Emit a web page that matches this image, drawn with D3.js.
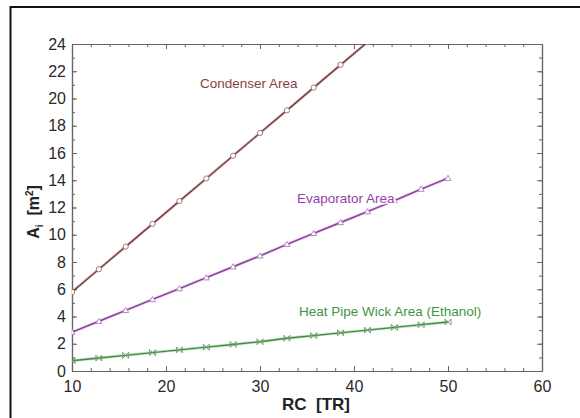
<!DOCTYPE html>
<html>
<head>
<meta charset="utf-8">
<script src="https://cdn.jsdelivr.net/npm/d3@7"></script>
<style>
  body { margin: 0; background: #fff; }
  svg { display: block; font-family: Arial, "Liberation Sans", sans-serif; }
</style>
</head>
<body>
<svg id="chart" width="580" height="418"></svg>
<script>
// values
var rc = [10, 12.86, 15.71, 18.57, 21.43, 24.29, 27.14, 30, 32.86, 35.71, 38.57, 41.43, 44.29, 47.14, 50];
var condenser = [5.8, 7.47, 9.13, 10.8, 12.47, 14.13, 15.8, 17.47, 19.13, 20.8, 22.47, 24.13, 25.8, 27.47, 29.13];
var evaporator = [2.85, 3.65, 4.45, 5.25, 6.05, 6.85, 7.65, 8.45, 9.3, 10.1, 10.9, 11.7, 12.5, 13.35, 14.15];
var wick = [0.75, 0.95, 1.15, 1.35, 1.55, 1.75, 1.95, 2.15, 2.4, 2.6, 2.8, 3.0, 3.2, 3.4, 3.6];
var xTicks = [10, 20, 30, 40, 50, 60];
var yTicks = [0, 2, 4, 6, 8, 10, 12, 14, 16, 18, 20, 22, 24];

var svg = d3.select("#chart");
var pLeft = 72, pRight = 542, pTop = 44, pBottom = 371;

var x = d3.scaleLinear().domain([10, 60]).range([pLeft, pRight]);
var y = d3.scaleLinear().domain([0, 24]).range([pBottom, pTop]);

// outer frame (only top + left edges visible in the picture)
svg.append("line").attr("x1", 10).attr("x2", 580).attr("y1", 7).attr("y2", 7)
  .style("stroke", "#111").style("stroke-width", 2);
svg.append("line").attr("x1", 10.5).attr("x2", 10.5).attr("y1", 6).attr("y2", 418)
  .style("stroke", "#111").style("stroke-width", 2);

svg.append("clipPath").attr("id", "plotclip").append("rect")
  .attr("x", pLeft).attr("y", pTop).attr("width", pRight - pLeft).attr("height", pBottom - pTop);

// axes, ticks inward on all four sides
var minorX = d3.range(10, 60.1, 2), minorY = d3.range(0, 24.1, 1);
var axisCol = "#666";

svg.append("g").attr("transform", "translate(0," + pBottom + ")")
  .call(d3.axisBottom(x).tickValues(xTicks).tickSizeInner(-5).tickSizeOuter(0).tickPadding(10));
svg.append("g").attr("transform", "translate(0," + pTop + ")")
  .call(d3.axisTop(x).tickValues(xTicks).tickSizeInner(-5).tickSizeOuter(0).tickFormat(""));
svg.append("g").attr("transform", "translate(" + pLeft + ",0)")
  .call(d3.axisLeft(y).tickValues(yTicks).tickSizeInner(-5).tickSizeOuter(0).tickPadding(6));
svg.append("g").attr("transform", "translate(" + pRight + ",0)")
  .call(d3.axisRight(y).tickValues(yTicks).tickSizeInner(-5).tickSizeOuter(0).tickFormat(""));

svg.append("g").attr("transform", "translate(0," + pBottom + ")")
  .call(d3.axisBottom(x).tickValues(minorX).tickSizeInner(-3).tickSizeOuter(0).tickFormat(""));
svg.append("g").attr("transform", "translate(0," + pTop + ")")
  .call(d3.axisTop(x).tickValues(minorX).tickSizeInner(-3).tickSizeOuter(0).tickFormat(""));
svg.append("g").attr("transform", "translate(" + pLeft + ",0)")
  .call(d3.axisLeft(y).tickValues(minorY).tickSizeInner(-3).tickSizeOuter(0).tickFormat(""));
svg.append("g").attr("transform", "translate(" + pRight + ",0)")
  .call(d3.axisRight(y).tickValues(minorY).tickSizeInner(-3).tickSizeOuter(0).tickFormat(""));

svg.selectAll(".domain").style("stroke", axisCol).style("stroke-width", 1.2);
svg.selectAll(".tick line").style("stroke", axisCol);
svg.selectAll(".tick text").style("font-size", "16px").style("fill", "#2a2a2a")
  .style("font-family", "Arial, 'Liberation Sans', sans-serif");

// series
var series = [
  { name: "Condenser Area", vals: condenser, col: "#7d3a3a", mk: "#a07a7a", shape: "circle" },
  { name: "Evaporator Area", vals: evaporator, col: "#8a3a9c", mk: "#b48abf", shape: "triangle" },
  { name: "Heat Pipe Wick Area (Ethanol)", vals: wick, col: "#3f8a3f", mk: "#6fa56f", shape: "bowtie" }
];

var plot = svg.append("g").attr("clip-path", "url(#plotclip)");

series.forEach(function(s) {
  var pts = rc.map(function(v, i) { return [v, s.vals[i]]; });
  var line = d3.line().x(function(d) { return x(d[0]); }).y(function(d) { return y(d[1]); });
  plot.append("path").datum(pts).attr("d", line)
    .style("fill", "none").style("stroke", s.col).style("stroke-width", 3).style("opacity", 0.25);
  plot.append("path").datum(pts).attr("d", line)
    .style("fill", "none").style("stroke", s.col).style("stroke-width", 1.4);

  var mk = plot.selectAll(null).data(pts).enter().append("g")
    .attr("transform", function(d) { return "translate(" + x(d[0]) + "," + y(d[1]) + ")"; });
  if (s.shape == "circle") {
    mk.append("circle").attr("r", 2.6).style("fill", "#fff").style("stroke", s.mk).style("stroke-width", 1);
  } else if (s.shape == "triangle") {
    mk.append("path").attr("d", "M0,-3L3,2.2L-3,2.2Z").style("fill", "#fff").style("stroke", s.mk).style("stroke-width", 1);
  } else {
    mk.append("path").attr("d", "M-3,-3L-3,3L3,-3L3,3Z").style("fill", "none").style("stroke", s.mk).style("stroke-width", 1);
  }
});

// curve labels (white halo like the gaps in the reference)
function label(tx, ty, str, col) {
  svg.append("text").attr("x", tx).attr("y", ty).text(str)
    .style("font-size", "13.5px").style("fill", col)
    .style("stroke", "#fff").style("stroke-width", 3).style("paint-order", "stroke");
}
label(200, 88, "Condenser Area", "#8a4040");
label(297, 203, "Evaporator Area", "#953fa6");
label(299, 316, "Heat Pipe Wick Area (Ethanol)", "#3f963f");

// axis titles
svg.append("text").attr("x", 316).attr("y", 410).attr("text-anchor", "middle")
  .style("font-size", "17px").style("font-weight", "bold").style("fill", "#222")
  .style("white-space", "pre").text("RC  [TR]");

var yl = svg.append("text").attr("transform", "translate(39,212) rotate(-90)")
  .attr("text-anchor", "middle").style("font-size", "16px").style("font-weight", "bold").style("fill", "#222")
  .style("white-space", "pre");
yl.append("tspan").text("A");
yl.append("tspan").attr("dy", 4).style("font-size", "10px").text("i");
yl.append("tspan").attr("dy", -4).text("  [m");
yl.append("tspan").attr("dy", -6).style("font-size", "10px").text("2");
yl.append("tspan").attr("dy", 6).text("]");
</script>
</body>
</html>
